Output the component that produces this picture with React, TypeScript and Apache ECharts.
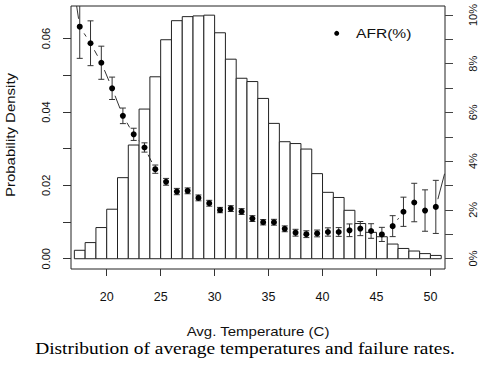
import React, { useEffect, useRef } from "react";
import * as echarts from "echarts";

// Histogram: 1-degree bins starting at these temperatures
const histStarts = [17, 18, 19, 20, 21, 22, 23, 24, 25, 26, 27, 28, 29, 30, 31, 32, 33, 34, 35, 36, 37, 38, 39, 40, 41, 42, 43, 44, 45, 46, 47, 48, 49, 50];
const histDensity = [0.0023, 0.0044, 0.0085, 0.0135, 0.0221, 0.031, 0.0408, 0.0496, 0.0597, 0.0649, 0.066, 0.0662, 0.0664, 0.0616, 0.0544, 0.0492, 0.0483, 0.0437, 0.0369, 0.0319, 0.0314, 0.0299, 0.0232, 0.0181, 0.0167, 0.0132, 0.0096, 0.0072, 0.006, 0.004, 0.0028, 0.0021, 0.0014, 0.0009];

// AFR (%) points with error half-widths
const afrTemps = [17.5, 18.5, 19.5, 20.5, 21.5, 22.5, 23.5, 24.5, 25.5, 26.5, 27.5, 28.5, 29.5, 30.5, 31.5, 32.5, 33.5, 34.5, 35.5, 36.5, 37.5, 38.5, 39.5, 40.5, 41.5, 42.5, 43.5, 44.5, 45.5, 46.5, 47.5, 48.5, 49.5, 50.5];
const afrValues = [9.52, 8.84, 8.04, 6.99, 5.86, 5.10, 4.56, 3.67, 3.15, 2.75, 2.78, 2.49, 2.27, 1.99, 2.05, 1.93, 1.64, 1.49, 1.49, 1.22, 1.06, 1.00, 1.03, 1.09, 1.09, 1.16, 1.23, 1.13, 0.99, 1.33, 1.92, 2.30, 1.97, 2.12];
const afrErrors = [1.3, 0.92, 0.68, 0.46, 0.32, 0.25, 0.19, 0.17, 0.14, 0.13, 0.12, 0.12, 0.12, 0.11, 0.12, 0.12, 0.12, 0.11, 0.12, 0.12, 0.14, 0.14, 0.14, 0.17, 0.18, 0.26, 0.29, 0.3, 0.29, 0.43, 0.6, 0.79, 0.85, 1.09];
// points just outside the plotted x range (only their connecting lines show)
const afrLineLeft = [16.5, 12.5];
const afrLineRight = [51.5, 3.8];

const xTickValues = [20, 25, 30, 35, 40, 45, 50];
const leftTickValues = [0, 0.01, 0.02, 0.03, 0.04, 0.05, 0.06];
const leftLabelValues = [0, 0.02, 0.04, 0.06];
const rightTickValues = [0, 1, 2, 3, 4, 5, 6, 7, 8, 9, 10];
const rightLabelValues = [0, 2, 4, 6, 8, 10];

const SANS = "Liberation Sans, Arial, Helvetica, sans-serif";
const SERIF = "Liberation Serif, Times New Roman, serif";
const INK = "#111";
const GAP = 8;

export default function App() {
  const ref = useRef<HTMLDivElement>(null);

  useEffect(() => {
    document.body.style.margin = "0";
    if (!ref.current) return;
    const chart = echarts.init(ref.current, undefined, { renderer: "svg" });

    const lineT = [afrLineLeft[0], ...afrTemps, afrLineRight[0]];
    const lineV = [afrLineLeft[1], ...afrValues, afrLineRight[1]];

    const option: any = {
      animation: false,
      backgroundColor: "#fff",
      grid: {
        left: 71,
        top: 6,
        right: 35,
        bottom: 100,
        show: true,
        borderColor: "#222",
        borderWidth: 1,
        backgroundColor: "transparent",
        containLabel: false,
      },
      xAxis: {
        type: "value",
        min: 16.69,
        max: 51.35,
        axisLine: { show: false, onZero: false },
        splitLine: { show: false },
        axisTick: {
          show: true,
          length: 7,
          customValues: xTickValues,
          lineStyle: { color: "#333" },
        },
        axisLabel: {
          customValues: xTickValues,
          fontSize: 12.5,
          fontFamily: SANS,
          color: INK,
          margin: 21,
        },
      },
      yAxis: [
        {
          type: "value",
          position: "left",
          min: -0.0028,
          max: 0.0689,
          axisLine: { show: false, onZero: false },
          splitLine: { show: false },
          axisTick: {
            show: true,
            length: 8,
            customValues: leftTickValues,
            lineStyle: { color: "#333" },
          },
          axisLabel: {
            customValues: leftLabelValues,
            rotate: 90,
            formatter: (v: number) => v.toFixed(2),
            fontSize: 11,
            fontFamily: SANS,
            color: INK,
            margin: 20,
          },
        },
        {
          type: "value",
          position: "right",
          min: -0.43,
          max: 10.37,
          axisLine: { show: false, onZero: false },
          splitLine: { show: false },
          axisTick: {
            show: true,
            length: 8,
            customValues: rightTickValues,
            lineStyle: { color: "#444" },
          },
          axisLabel: {
            customValues: rightLabelValues,
            rotate: 90,
            formatter: (v: number) => `${v}%`,
            fontSize: 11,
            fontFamily: SANS,
            color: INK,
            margin: 22,
          },
        },
      ],
      series: [
        {
          type: "custom",
          name: "Probability Density",
          xAxisIndex: 0,
          yAxisIndex: 0,
          clip: true,
          encode: { x: [0, 1], y: 2 },
          data: histStarts.map((s, i) => [s, s + 1, histDensity[i]]),
          renderItem: (params: any, api: any) => {
            const p0 = api.coord([api.value(0), 0]);
            const p1 = api.coord([api.value(1), api.value(2)]);
            return {
              type: "rect",
              shape: {
                x: p0[0],
                y: p1[1],
                width: p1[0] - p0[0],
                height: p0[1] - p1[1],
              },
              style: { fill: "#fff", stroke: "#222", lineWidth: 1 },
            };
          },
          z: 1,
        },
        {
          type: "custom",
          name: "AFR line",
          xAxisIndex: 0,
          yAxisIndex: 1,
          clip: true,
          encode: { x: 0, y: 1 },
          data: lineT.map((t, i) => [t, lineV[i]]),
          renderItem: (params: any, api: any) => {
            const i = params.dataIndex;
            if (i >= lineT.length - 1) return null;
            const p = api.coord([lineT[i], lineV[i]]);
            const q = api.coord([lineT[i + 1], lineV[i + 1]]);
            const dx = q[0] - p[0];
            const dy = q[1] - p[1];
            const d = Math.sqrt(dx * dx + dy * dy);
            if (d <= 2 * GAP) return null;
            const ux = dx / d;
            const uy = dy / d;
            return {
              type: "line",
              shape: {
                x1: p[0] + ux * GAP,
                y1: p[1] + uy * GAP,
                x2: q[0] - ux * GAP,
                y2: q[1] - uy * GAP,
              },
              style: { stroke: "#333", lineWidth: 1 },
            };
          },
          z: 2,
        },
        {
          type: "custom",
          name: "AFR(%)",
          xAxisIndex: 0,
          yAxisIndex: 1,
          clip: true,
          encode: { x: 0, y: 1 },
          data: afrTemps.map((t, i) => [t, afrValues[i], afrErrors[i]]),
          renderItem: (params: any, api: any) => {
            const t = api.value(0);
            const v = api.value(1);
            const e = api.value(2);
            const c = api.coord([t, v]);
            const top = api.coord([t, v + e]);
            const bot = api.coord([t, v - e]);
            const w = 3;
            const st = { stroke: "#333", lineWidth: 1 };
            return {
              type: "group",
              children: [
                { type: "line", shape: { x1: c[0], y1: top[1], x2: c[0], y2: bot[1] }, style: st },
                { type: "line", shape: { x1: c[0] - w, y1: top[1], x2: c[0] + w, y2: top[1] }, style: st },
                { type: "line", shape: { x1: c[0] - w, y1: bot[1], x2: c[0] + w, y2: bot[1] }, style: st },
                { type: "circle", shape: { cx: c[0], cy: c[1], r: 3 }, style: { fill: "#000" } },
              ],
            };
          },
          z: 3,
        },
      ],
      graphic: [
        {
          type: "circle",
          shape: { cx: 336.7, cy: 33.3, r: 2.5 },
          style: { fill: "#000" },
        },
        {
          type: "text",
          x: 356,
          y: 33.5,
          scaleX: 1.2,
          style: {
            text: "AFR(%)",
            fontSize: 13,
            fontFamily: SANS,
            fill: INK,
            align: "left",
            verticalAlign: "middle",
            textAlign: "left",
            textVerticalAlign: "middle",
          },
        },
        {
          type: "text",
          x: 11,
          y: 135,
          rotation: Math.PI / 2,
          scaleX: 1.2,
          style: {
            text: "Probability Density",
            fontSize: 12.5,
            fontFamily: SANS,
            fill: INK,
            align: "center",
            verticalAlign: "middle",
            textAlign: "center",
            textVerticalAlign: "middle",
          },
        },
        {
          type: "text",
          x: 258,
          y: 331.5,
          scaleX: 1.2,
          style: {
            text: "Avg. Temperature (C)",
            fontSize: 12.5,
            fontFamily: SANS,
            fill: INK,
            align: "center",
            verticalAlign: "middle",
            textAlign: "center",
            textVerticalAlign: "middle",
          },
        },
        {
          type: "text",
          x: 245,
          y: 348,
          scaleX: 1.11,
          style: {
            text: "Distribution of average temperatures and failure rates.",
            fontSize: 17.5,
            fontFamily: SERIF,
            fill: "#000",
            align: "center",
            verticalAlign: "middle",
            textAlign: "center",
            textVerticalAlign: "middle",
          },
        },
      ],
    };

    chart.setOption(option);
    return () => {
      chart.dispose();
    };
  }, []);

  return <div ref={ref} style={{ width: 480, height: 369 }} />;
}
